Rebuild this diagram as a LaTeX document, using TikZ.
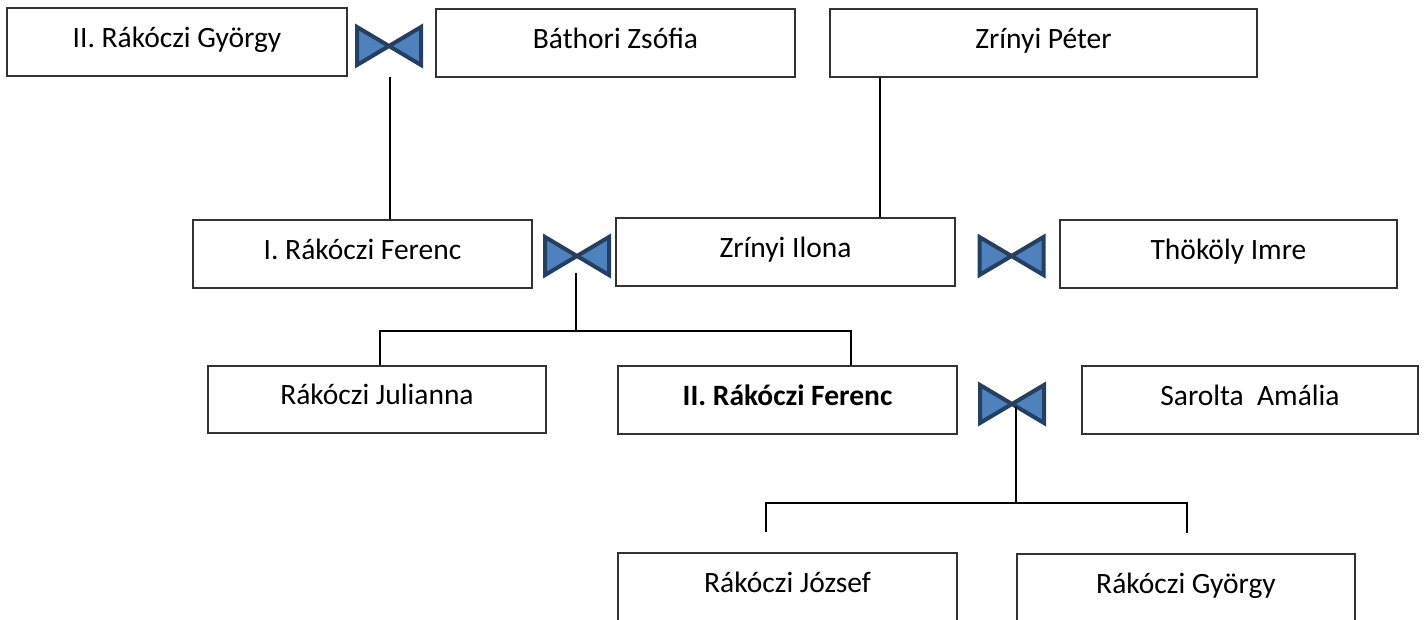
\documentclass[tikz,border=0pt]{standalone}
\usepackage{fontspec}
\setmainfont{Carlito}
\usetikzlibrary{calc}
\definecolor{kekfill}{HTML}{4F81BD}
\definecolor{kekline}{HTML}{243F60}
\tikzset{
  szemely/.style={draw=black!80, line width=1.5pt, minimum width=339pt, minimum height=68pt,
    inner sep=0pt, text height=19pt, text depth=9pt, font=\fontsize{29.5}{34}\selectfont},
  vonal/.style={line width=2pt},
  kotes/.style={fill=kekfill, draw=kekline, line width=4pt, line join=miter}
}

\begin{document}
\begin{tikzpicture}[x=1pt, y=-1pt]
    \useasboundingbox (0,0) rectangle (1425,619);
    \clip (0,0) rectangle (1425,619);
    \fill[white] (0,0) rectangle (1425,619);
    \node[szemely, minimum width=340pt] (gyorgyII) at (177,42) {II. Rákóczi György};
    \node[szemely, minimum width=359pt] (zsofia) at (615.5,43) {Báthori Zsófia};
    \node[szemely, minimum width=427pt] (peter) at (1043.5,43) {Zrínyi Péter};
    \node[szemely] (ferencI) at (362.5,254) {I. Rákóczi Ferenc};
    \node[szemely] (ilona) at (785.5,252) {Zrínyi Ilona};
    \node[szemely, minimum width=337pt] (imre) at (1228.5,254) {Thököly Imre};
    \node[szemely, minimum width=338pt, minimum height=67pt] (julianna) at (377,399.5) {Rákóczi Julianna};
    \node[szemely] (ferencII) at (787.5,400) {\textbf{II. Rákóczi Ferenc}};
    \node[szemely, minimum width=336pt] (amalia) at (1250,400) {Sarolta~ Amália};
    \node[szemely] (jozsef) at (787.5,587) {Rákóczi József};
    \node[szemely, minimum width=338pt] (gyorgy) at (1186,588) {Rákóczi György};
    \foreach \n/\x/\y in {k1/389/46, k2/577/256, k3/1011.5/256, k4/1012/404} {
        \coordinate (\n) at (\x,\y);
        \draw[kotes] ($(\n)+(-32,-19)$) -- ($(\n)+(32,19)$) -- ($(\n)+(32,-19)$) -- ($(\n)+(-32,19)$) -- cycle;
    }
    \coordinate (v1) at ($(k1)+(1,31)$);
    \draw[vonal] (v1) -- (v1 |- ferencI.north);
    \coordinate (v3) at ([xshift=-163.5pt]peter.south);
    \draw[vonal] (v3) -- (v3 |- ilona.north);
    \coordinate (v2) at ($(k2)+(-1,17)$);
    \draw[vonal] (v2) -- ++(0,58) coordinate (h2);
    \draw[vonal] ([xshift=3pt]julianna.north) |- (h2) -| ([xshift=63pt]ferencII.north);
    \coordinate (v4) at ($(k4)+(4,3)$);
    \draw[vonal] (v4) -- ++(0,96) coordinate (h4);
    \draw[vonal] ([shift={(-22,-20)}]jozsef.north) |- (h4) -| ([shift={(1,-20)}]gyorgy.north);
\end{tikzpicture}
\end{document}
